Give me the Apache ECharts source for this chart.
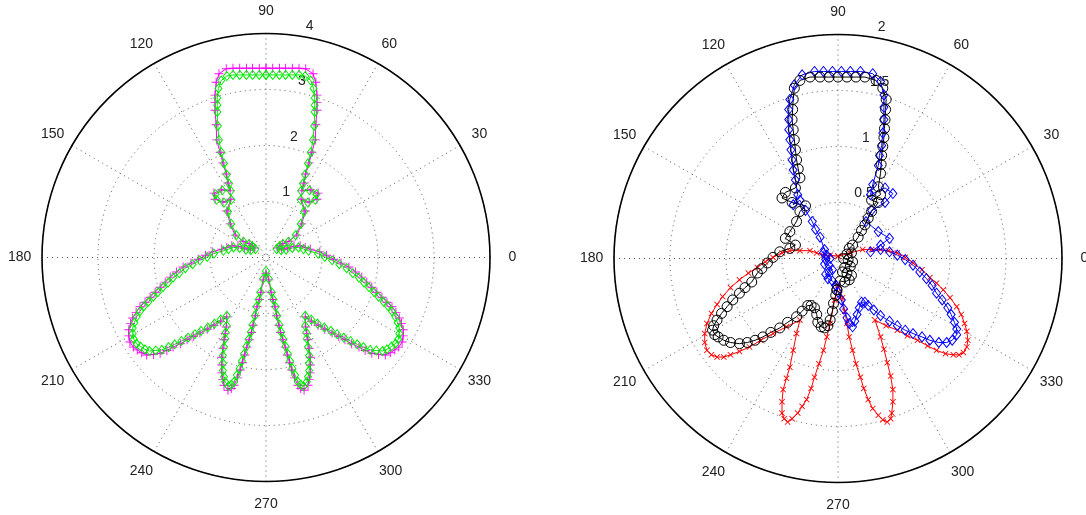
<!DOCTYPE html>
<html>
<head>
<meta charset="utf-8">
<script src="https://cdn.jsdelivr.net/npm/echarts@6/dist/echarts.min.js"></script>
<style>
  html, body { margin: 0; padding: 0; background: #fff; }
  #chart { width: 1086px; height: 515px; }
</style>
</head>
<body>
<div id="chart"></div>
<script>
// angle tick labels (degrees) and radius tick labels for both plots
const angleTicks = [0, 30, 60, 90, 120, 150, 180, 210, 240, 270, 300, 330];
const leftRadiusTicks = [1, 2, 3, 4];
const rightRadiusTicks = [0.5, 1, 1.5, 2];

// curve samples, as [x, y] in data units (x = r cos t, y = r sin t)
const magentaPts = [
  [0,3.38],[-0.12,3.38],[-0.24,3.38],[-0.35,3.38],[-0.47,3.38],[-0.59,3.38],[-0.71,3.37],[-0.84,3.28],[-0.89,3.13],
  [-0.91,2.9],[-0.91,2.77],[-0.91,2.63],[-0.89,2.37],[-0.88,2.1],[-0.82,1.88],[-0.77,1.69],[-0.71,1.49],[-0.68,1.33],
  [-0.64,1.19],[-0.79,1.21],[-0.93,1.15],[-0.91,1.04],[-0.77,0.99],[-0.63,1.04],[-0.7,0.83],[-0.64,0.6],[-0.55,0.4],
  [-0.41,0.29],[-0.3,0.25],[-0.25,0.22],[-0.2,0.17],[-0.28,0.15],[-0.38,0.17],[-0.5,0.2],[-0.61,0.21],[-0.7,0.18],
  [-0.79,0.15],[-0.96,0.1],[-1.08,0.04],[-1.21,-0.03],[-1.34,-0.1],[-1.48,-0.17],[-1.6,-0.26],[-1.71,-0.35],
  [-1.8,-0.44],[-1.89,-0.53],[-1.98,-0.62],[-2.07,-0.71],[-2.16,-0.8],[-2.25,-0.88],[-2.32,-0.98],[-2.38,-1.08],
  [-2.42,-1.18],[-2.45,-1.29],[-2.45,-1.4],[-2.43,-1.51],[-2.37,-1.6],[-2.3,-1.65],[-2.22,-1.7],[-2.13,-1.74],
  [-2.01,-1.73],[-1.89,-1.71],[-1.77,-1.66],[-1.66,-1.6],[-1.53,-1.54],[-1.41,-1.47],[-1.3,-1.41],[-1.18,-1.35],
  [-1.05,-1.28],[-0.93,-1.21],[-0.81,-1.14],[-0.7,-1.06],[-0.71,-1.24],[-0.73,-1.36],[-0.75,-1.47],[-0.77,-1.62],
  [-0.79,-1.78],[-0.79,-1.92],[-0.79,-2.06],[-0.77,-2.18],[-0.75,-2.28],[-0.68,-2.37],[-0.62,-2.34],[-0.57,-2.28],
  [-0.51,-2.15],[-0.46,-2.01],[-0.42,-1.88],[-0.38,-1.74],[-0.34,-1.6],[-0.3,-1.47],[-0.26,-1.34],[-0.23,-1.21],
  [-0.19,-1.04],[-0.16,-0.88],[-0.12,-0.75],[-0.09,-0.62],[-0.05,-0.4],[0,-0.28],
  [0.05,-0.4],[0.09,-0.62],[0.12,-0.75],[0.16,-0.88],[0.19,-1.04],[0.23,-1.21],[0.26,-1.34],[0.3,-1.47],[0.34,-1.6],
  [0.38,-1.74],[0.42,-1.88],[0.46,-2.01],[0.51,-2.15],[0.57,-2.28],[0.62,-2.34],[0.68,-2.37],[0.75,-2.28],[0.77,-2.18],
  [0.79,-2.06],[0.79,-1.92],[0.79,-1.78],[0.77,-1.62],[0.75,-1.47],[0.73,-1.36],[0.71,-1.24],[0.7,-1.06],[0.81,-1.14],
  [0.93,-1.21],[1.05,-1.28],[1.18,-1.35],[1.3,-1.41],[1.41,-1.47],[1.53,-1.54],[1.66,-1.6],[1.77,-1.66],[1.89,-1.71],
  [2.01,-1.73],[2.13,-1.74],[2.22,-1.7],[2.3,-1.65],[2.37,-1.6],[2.43,-1.51],[2.45,-1.4],[2.45,-1.29],[2.42,-1.18],
  [2.38,-1.08],[2.32,-0.98],[2.25,-0.88],[2.16,-0.8],[2.07,-0.71],[1.98,-0.62],[1.89,-0.53],[1.8,-0.44],[1.71,-0.35],
  [1.6,-0.26],[1.48,-0.17],[1.34,-0.1],[1.21,-0.03],[1.08,0.04],[0.96,0.1],[0.79,0.15],[0.7,0.18],[0.61,0.21],
  [0.5,0.2],[0.38,0.17],[0.28,0.15],[0.2,0.17],[0.25,0.22],[0.3,0.25],[0.41,0.29],[0.55,0.4],[0.64,0.6],[0.7,0.83],
  [0.63,1.04],[0.77,0.99],[0.91,1.04],[0.93,1.15],[0.79,1.21],[0.64,1.19],[0.68,1.33],[0.71,1.49],[0.77,1.69],
  [0.82,1.88],[0.88,2.1],[0.89,2.37],[0.91,2.63],[0.91,2.77],[0.91,2.9],[0.89,3.13],[0.84,3.28],[0.71,3.37],[0.59,3.38],
  [0.47,3.38],[0.35,3.38],[0.24,3.38],[0.12,3.38],[0,3.38]
];

const greenPts = [
  [0,3.26],[-0.12,3.26],[-0.24,3.26],[-0.35,3.26],[-0.47,3.26],[-0.59,3.26],[-0.7,3.24],[-0.8,3.16],[-0.85,3.02],
  [-0.87,2.85],[-0.87,2.72],[-0.87,2.6],[-0.86,2.35],[-0.84,2.1],[-0.8,1.88],[-0.75,1.68],[-0.7,1.48],[-0.66,1.32],
  [-0.63,1.19],[-0.78,1.2],[-0.9,1.13],[-0.88,1.03],[-0.75,0.98],[-0.62,1.03],[-0.68,0.82],[-0.62,0.6],[-0.53,0.4],
  [-0.4,0.28],[-0.3,0.24],[-0.24,0.2],[-0.19,0.15],[-0.27,0.13],[-0.36,0.14],[-0.47,0.17],[-0.58,0.18],[-0.67,0.15],
  [-0.76,0.12],[-0.93,0.07],[-1.05,0.01],[-1.18,-0.05],[-1.31,-0.12],[-1.44,-0.19],[-1.55,-0.28],[-1.66,-0.36],
  [-1.75,-0.45],[-1.84,-0.53],[-1.93,-0.62],[-2.01,-0.7],[-2.1,-0.79],[-2.18,-0.87],[-2.25,-0.96],[-2.31,-1.06],
  [-2.35,-1.16],[-2.38,-1.26],[-2.38,-1.36],[-2.36,-1.46],[-2.31,-1.54],[-2.24,-1.59],[-2.16,-1.64],[-2.08,-1.67],
  [-1.97,-1.66],[-1.86,-1.65],[-1.74,-1.6],[-1.63,-1.55],[-1.51,-1.49],[-1.39,-1.43],[-1.27,-1.37],[-1.16,-1.31],
  [-1.04,-1.25],[-0.92,-1.18],[-0.81,-1.11],[-0.7,-1.04],[-0.7,-1.22],[-0.72,-1.34],[-0.73,-1.45],[-0.75,-1.6],
  [-0.77,-1.75],[-0.77,-1.89],[-0.77,-2.02],[-0.75,-2.13],[-0.73,-2.22],[-0.67,-2.3],[-0.62,-2.27],[-0.57,-2.22],
  [-0.52,-2.1],[-0.47,-1.98],[-0.43,-1.85],[-0.39,-1.72],[-0.35,-1.59],[-0.31,-1.46],[-0.27,-1.33],[-0.24,-1.2],
  [-0.2,-1.04],[-0.17,-0.88],[-0.13,-0.75],[-0.1,-0.62],[-0.05,-0.38],[0,-0.24],
  [0.05,-0.38],[0.1,-0.62],[0.13,-0.75],[0.17,-0.88],[0.2,-1.04],[0.24,-1.2],[0.27,-1.33],[0.31,-1.46],[0.35,-1.59],
  [0.39,-1.72],[0.43,-1.85],[0.47,-1.98],[0.52,-2.1],[0.57,-2.22],[0.62,-2.27],[0.67,-2.3],[0.73,-2.22],[0.75,-2.13],
  [0.77,-2.02],[0.77,-1.89],[0.77,-1.75],[0.75,-1.6],[0.73,-1.45],[0.72,-1.34],[0.7,-1.22],[0.7,-1.04],[0.81,-1.11],
  [0.92,-1.18],[1.04,-1.25],[1.16,-1.31],[1.27,-1.37],[1.39,-1.43],[1.51,-1.49],[1.63,-1.55],[1.74,-1.6],[1.86,-1.65],
  [1.97,-1.66],[2.08,-1.67],[2.16,-1.64],[2.24,-1.59],[2.31,-1.54],[2.36,-1.46],[2.38,-1.36],[2.38,-1.26],[2.35,-1.16],
  [2.31,-1.06],[2.25,-0.96],[2.18,-0.87],[2.1,-0.79],[2.01,-0.7],[1.93,-0.62],[1.84,-0.53],[1.75,-0.45],[1.66,-0.36],
  [1.55,-0.28],[1.44,-0.19],[1.31,-0.12],[1.18,-0.05],[1.05,0.01],[0.93,0.07],[0.76,0.12],[0.67,0.15],[0.58,0.18],
  [0.47,0.17],[0.36,0.14],[0.27,0.13],[0.19,0.15],[0.24,0.2],[0.3,0.24],[0.4,0.28],[0.53,0.4],[0.62,0.6],[0.68,0.82],
  [0.62,1.03],[0.75,0.98],[0.88,1.03],[0.9,1.13],[0.78,1.2],[0.63,1.19],[0.66,1.32],[0.7,1.48],[0.75,1.68],[0.8,1.88],
  [0.84,2.1],[0.86,2.35],[0.87,2.6],[0.87,2.72],[0.87,2.85],[0.85,3.02],[0.8,3.16],[0.7,3.24],[0.59,3.26],[0.47,3.26],
  [0.35,3.26],[0.24,3.26],[0.12,3.26],[0,3.26]
];

const blackPts = [
  [-0.01,-0.28],[0.02,-0.2],[0.06,-0.21],[0.1,-0.19],[0.12,-0.15],[0.08,-0.13],[0.04,-0.12],[0.06,-0.08],[0.11,-0.07],
  [0.13,-0.03],[0.09,-0.01],[0.05,0],[0.08,0.04],[0.12,0.05],[0.1,0.09],[0.13,0.12],[0.18,0.19],[0.21,0.25],
  [0.24,0.3],[0.27,0.36],[0.3,0.42],[0.36,0.5],[0.3,0.52],[0.38,0.57],[0.36,0.64],[0.38,0.76],[0.385,0.84],[0.39,0.92],
  [0.4,1.0],[0.41,1.08],[0.415,1.16],[0.42,1.24],[0.425,1.33],[0.43,1.42],[0.4,1.52],[0.34,1.59],[0.24,1.62],
  [0.16,1.62],[0.08,1.62],[0,1.62],[-0.08,1.62],[-0.16,1.62],[-0.25,1.62],[-0.34,1.59],[-0.39,1.52],[-0.4,1.42],
  [-0.405,1.33],[-0.41,1.24],[-0.4,1.15],[-0.39,1.06],[-0.38,0.97],[-0.37,0.88],[-0.355,0.8],[-0.34,0.72],[-0.38,0.63],
  [-0.47,0.59],[-0.5,0.54],[-0.41,0.5],[-0.29,0.47],[-0.34,0.42],[-0.37,0.33],[-0.43,0.24],[-0.47,0.18],[-0.38,0.12],
  [-0.43,0.09],[-0.52,0.06],[-0.58,0.01],[-0.63,-0.04],[-0.68,-0.09],[-0.72,-0.13],[-0.77,-0.21],[-0.83,-0.26],
  [-0.88,-0.31],[-0.94,-0.37],[-0.99,-0.43],[-1.04,-0.49],[-1.08,-0.55],[-1.11,-0.6],[-1.12,-0.64],[-1.1,-0.68],
  [-1.07,-0.7],[-1.02,-0.73],[-0.96,-0.75],[-0.88,-0.76],[-0.81,-0.75],[-0.74,-0.73],[-0.67,-0.7],[-0.6,-0.66],
  [-0.52,-0.62],[-0.45,-0.57],[-0.37,-0.52],[-0.32,-0.47],[-0.27,-0.42],[-0.24,-0.42],[-0.21,-0.44],[-0.19,-0.5],
  [-0.18,-0.57],[-0.15,-0.61],[-0.12,-0.62],[-0.09,-0.6],[-0.07,-0.55],[-0.05,-0.47],[-0.04,-0.4],[-0.02,-0.33],
  [-0.01,-0.28]
];

const bluePts = [
  [-0.02,-0.24],[-0.05,-0.2],[-0.09,-0.18],[-0.11,-0.14],[-0.08,-0.12],[-0.05,-0.1],[-0.08,-0.06],[-0.12,-0.05],
  [-0.11,-0.01],[-0.07,0],[-0.1,0.03],[-0.13,0.05],[-0.12,0.08],[-0.16,0.19],[-0.2,0.26],[-0.23,0.33],[-0.29,0.43],
  [-0.34,0.52],[-0.4,0.48],[-0.36,0.57],[-0.38,0.7],[-0.4,0.79],[-0.41,0.88],[-0.42,0.97],[-0.43,1.06],[-0.44,1.15],
  [-0.44,1.24],[-0.44,1.33],[-0.43,1.42],[-0.39,1.55],[-0.32,1.64],[-0.21,1.67],[-0.13,1.67],[-0.05,1.67],[0.03,1.67],
  [0.11,1.67],[0.2,1.67],[0.31,1.65],[0.38,1.58],[0.41,1.46],[0.41,1.35],[0.41,1.24],[0.4,1.12],[0.39,1.01],
  [0.37,0.92],[0.36,0.83],[0.31,0.66],[0.29,0.57],[0.42,0.63],[0.49,0.58],[0.42,0.5],[0.3,0.43],[0.25,0.33],
  [0.36,0.24],[0.46,0.18],[0.38,0.12],[0.29,0.06],[0.38,0.08],[0.46,0.06],[0.53,0.03],[0.6,-0.01],[0.67,-0.06],
  [0.73,-0.12],[0.79,-0.18],[0.84,-0.24],[0.88,-0.31],[0.93,-0.37],[0.98,-0.44],[1.01,-0.5],[1.04,-0.57],[1.06,-0.63],
  [1.06,-0.68],[1.02,-0.73],[0.97,-0.75],[0.9,-0.75],[0.82,-0.73],[0.75,-0.7],[0.67,-0.67],[0.6,-0.64],[0.53,-0.6],
  [0.46,-0.56],[0.38,-0.51],[0.32,-0.46],[0.27,-0.42],[0.24,-0.39],[0.21,-0.39],[0.19,-0.44],[0.17,-0.5],[0.15,-0.56],
  [0.13,-0.61],[0.1,-0.58],[0.08,-0.53],[0.05,-0.45],[0.03,-0.37],[0,-0.3],[-0.02,-0.24]
];

const redPts = [
  [0,0.02],[-0.07,0.03],[-0.13,0.03],[-0.19,0.05],[-0.25,0.07],[-0.34,0.07],[-0.43,0.07],[-0.5,0.05],[-0.58,0.01],
  [-0.65,-0.03],[-0.72,-0.08],[-0.8,-0.13],[-0.88,-0.19],[-0.96,-0.26],[-1.03,-0.34],[-1.08,-0.41],[-1.13,-0.49],
  [-1.17,-0.58],[-1.19,-0.67],[-1.19,-0.75],[-1.17,-0.82],[-1.13,-0.86],[-1.08,-0.88],[-1.02,-0.88],[-0.96,-0.86],
  [-0.88,-0.83],[-0.79,-0.79],[-0.69,-0.73],[-0.58,-0.67],[-0.46,-0.61],[-0.34,-0.55],[-0.37,-0.67],[-0.4,-0.82],
  [-0.43,-0.97],[-0.46,-1.07],[-0.49,-1.17],[-0.5,-1.28],[-0.5,-1.38],[-0.48,-1.43],[-0.45,-1.46],[-0.41,-1.43],
  [-0.36,-1.38],[-0.32,-1.32],[-0.28,-1.26],[-0.24,-1.16],[-0.21,-1.06],[-0.17,-0.94],[-0.13,-0.82],[-0.1,-0.7],
  [-0.07,-0.58],[-0.03,-0.37],[0,-0.24],[0.04,-0.35],[0.06,-0.47],[0.08,-0.58],[0.1,-0.7],[0.13,-0.82],[0.16,-0.94],
  [0.2,-1.06],[0.23,-1.16],[0.27,-1.26],[0.31,-1.34],[0.36,-1.4],[0.4,-1.44],[0.44,-1.46],[0.47,-1.43],[0.48,-1.38],
  [0.49,-1.28],[0.49,-1.17],[0.47,-1.05],[0.44,-0.93],[0.41,-0.81],[0.38,-0.7],[0.33,-0.55],[0.43,-0.6],[0.53,-0.64],
  [0.62,-0.69],[0.71,-0.73],[0.8,-0.78],[0.88,-0.82],[0.96,-0.85],[1.03,-0.86],[1.08,-0.86],[1.12,-0.84],[1.15,-0.79],
  [1.16,-0.73],[1.15,-0.65],[1.13,-0.58],[1.1,-0.5],[1.06,-0.43],[1.0,-0.35],[0.94,-0.28],[0.88,-0.22],[0.82,-0.17],
  [0.75,-0.1],[0.67,-0.04],[0.6,0.01],[0.53,0.05],[0.45,0.07],[0.38,0.08],[0.3,0.08],[0.22,0.08],[0.11,0.05],[0,0.02]
];

const FONT = '"Liberation Sans", Arial, Helvetica, sans-serif';
const PLUS = "path://M4.5,0H5.5V4.5H10V5.5H5.5V10H4.5V5.5H0V4.5H4.5Z";
const CROSS = "path://M0,1L1,0L5,4L9,0L10,1L6,5L10,9L9,10L5,6L1,10L0,9L4,5Z";
const RADIUS_PX = 224;

function toPolar(pts) {
  return pts.map(([x, y]) => {
    let a = (Math.atan2(y, x) * 180) / Math.PI;
    if (a < 0) a += 360;
    return [Math.hypot(x, y), a];
  });
}

// ECharts anchors angle labels by their edge; pad each one so its centre sits at 1.1 R.
// Rich tokens keep text vertically centred in the padded box, so vertical padding is doubled.
function angleLabelRich(margin) {
  const ctx = document.createElement("canvas").getContext("2d");
  ctx.font = "14px " + FONT;
  const target = RADIUS_PX * 1.1;
  const h = 14;
  const rich = {};
  angleTicks.forEach((t) => {
    const rad = (t * Math.PI) / 180;
    const dx = Math.cos(rad);
    const dy = -Math.sin(rad);
    const ax = (RADIUS_PX + margin) * dx;
    const ay = (RADIUS_PX + margin) * dy;
    const w = ctx.measureText(String(t)).width;
    const ha = Math.abs(ax) / RADIUS_PX < 0.3 ? "center" : ax > 0 ? "left" : "right";
    const va = Math.abs(ay) / RADIUS_PX < 0.3 ? "middle" : ay > 0 ? "top" : "bottom";
    const cx = ax + (ha === "left" ? w / 2 : ha === "right" ? -w / 2 : 0);
    const cy = ay + (va === "top" ? h / 2 : va === "bottom" ? -h / 2 : 0);
    const ddx = target * dx - cx;
    const ddy = target * dy - cy;
    let pl = 0, pr = 0, pt = 0, pb = 0;
    if (ha === "left") pl = ddx;
    else if (ha === "right") pr = -ddx;
    else if (ddx > 0) pl = 2 * ddx;
    else pr = -2 * ddx;
    if (va === "top") pt = 2 * ddy;
    else if (va === "bottom") pb = -2 * ddy;
    rich["t" + t] = {
      padding: [pt, pr, pb, pl].map((v) => Math.max(0, v)),
      fontSize: 14,
      fontFamily: FONT,
      color: "#222",
      lineHeight: h,
    };
  });
  return rich;
}

const dotted = { color: "#555", type: [1, 4], width: 1 };
const LABEL_MARGIN = 2;
const angleRich = angleLabelRich(LABEL_MARGIN);

function mainAngleAxis(polarIndex) {
  return {
    polarIndex,
    type: "value",
    min: 0,
    max: 360,
    interval: 30,
    startAngle: 0,
    clockwise: false,
    axisLine: { lineStyle: { color: "#000", width: 1.6 } },
    axisTick: { show: false },
    splitLine: { show: true, lineStyle: dotted },
    axisLabel: {
      margin: LABEL_MARGIN,
      color: "#222",
      fontSize: 14,
      fontFamily: FONT,
      rich: angleRich,
      formatter: (v) => (angleTicks.includes(v) ? "{t" + v + "|" + v + "}" : ""),
    },
  };
}

function mainRadiusAxis(polarIndex, max, interval) {
  return {
    polarIndex,
    min: 0,
    max,
    interval,
    axisLine: { show: false },
    axisTick: { show: false },
    axisLabel: { show: false },
    splitLine: { show: true, lineStyle: dotted },
  };
}

function labelRadiusAxis(polarIndex, max, interval, ticks) {
  return {
    polarIndex,
    min: 0,
    max,
    interval,
    axisLine: { show: false },
    axisTick: { show: false },
    splitLine: { show: false },
    axisLabel: {
      margin: 0,
      align: "left",
      verticalAlign: "middle",
      color: "#222",
      fontSize: 14,
      fontFamily: FONT,
      formatter: (v) => (ticks.includes(v) ? String(v) : ""),
    },
  };
}

function curve(polarIndex, pts, color, symbol, size, hollow) {
  return {
    type: "line",
    coordinateSystem: "polar",
    polarIndex,
    data: toPolar(pts),
    symbol,
    symbolSize: size,
    showAllSymbol: true,
    silent: true,
    lineStyle: { color, width: 1 },
    itemStyle: hollow
      ? { color: "rgba(0,0,0,0)", borderColor: color, borderWidth: 1 }
      : { color },
  };
}

const chart = echarts.init(document.getElementById("chart"));
chart.setOption({
  animation: false,
  backgroundColor: "#fff",
  polar: [
    { center: [266, 257.5], radius: RADIUS_PX },
    { center: [274.5, 248], radius: RADIUS_PX },
    { center: [838, 258.5], radius: RADIUS_PX },
    { center: [846.5, 249], radius: RADIUS_PX },
  ],
  angleAxis: [
    mainAngleAxis(0),
    { polarIndex: 1, type: "value", min: 0, max: 360, startAngle: 82, show: false },
    mainAngleAxis(2),
    { polarIndex: 3, type: "value", min: 0, max: 360, startAngle: 82, show: false },
  ],
  radiusAxis: [
    mainRadiusAxis(0, 4, 1),
    labelRadiusAxis(1, 4, 1, leftRadiusTicks),
    mainRadiusAxis(2, 2, 0.5),
    labelRadiusAxis(3, 2, 0.5, rightRadiusTicks),
  ],
  series: [
    curve(0, magentaPts, "#ff00ff", PLUS, 9, false),
    curve(0, greenPts, "#00ee00", "diamond", [7, 9], true),
    curve(2, redPts, "#ff0000", CROSS, 6, false),
    curve(2, bluePts, "#0000ff", "diamond", [8, 10], true),
    curve(2, blackPts, "#000000", "circle", 10, true),
  ],
});
</script>
</body>
</html>
